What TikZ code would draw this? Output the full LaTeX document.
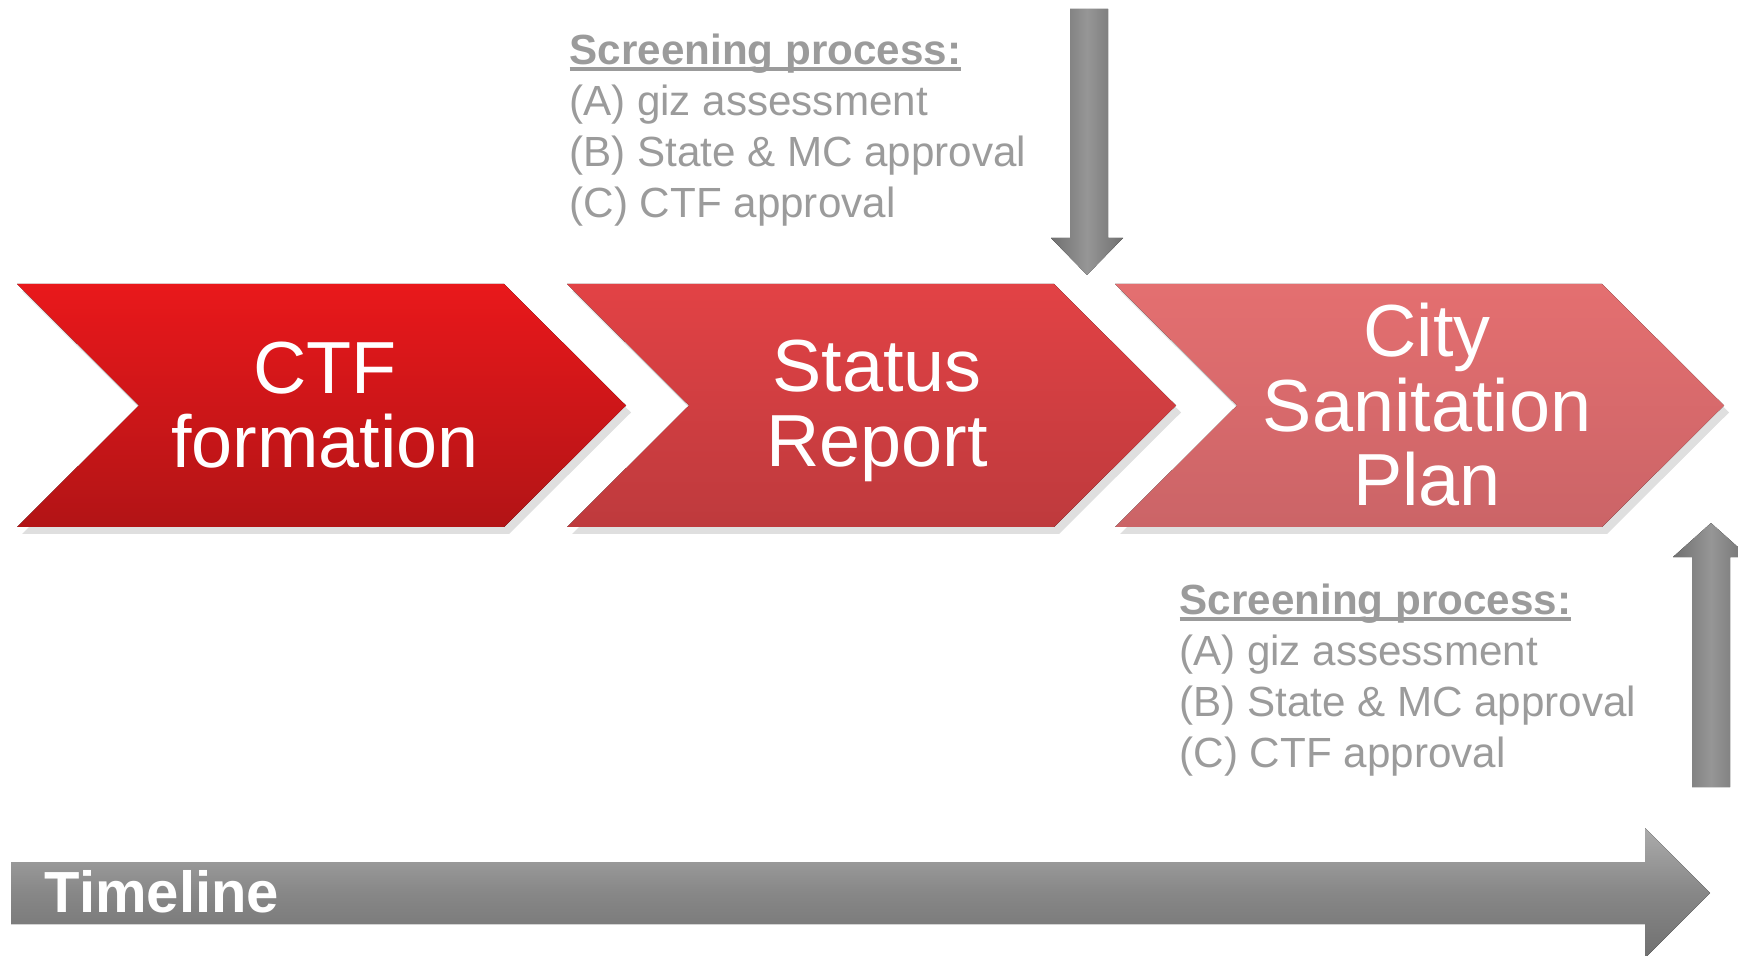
\documentclass[tikz,border=0pt]{standalone}
\usepackage{fontspec}
\setmainfont{Liberation Sans}
\usepackage{xcolor}
\definecolor{ra}{RGB}{233,24,27}
\definecolor{rb}{RGB}{178,20,22}
\definecolor{sa}{RGB}{226,66,69}
\definecolor{sb}{RGB}{190,58,61}
\definecolor{ca}{RGB}{228,111,112}
\definecolor{cb}{RGB}{203,100,103}
\definecolor{txtgray}{RGB}{155,155,155}
\definecolor{adark}{RGB}{112,112,112}
\definecolor{alight}{RGB}{150,150,150}
\usepackage{tikz}
\usetikzlibrary{calc, shadows}
\tikzstyle{chevron} = [drop shadow={shadow xshift=0.5mm, shadow yshift=-0.7mm, opacity=0.25}]
\tikzstyle{steptext} = [text=white, align=center, inner sep=0pt, font=\fontsize{21}{21.2}\selectfont]
\tikzstyle{screen} = [text=txtgray, align=left, inner sep=0pt, anchor=north west, font=\fontsize{12}{14.5}\selectfont]
\tikzstyle{grayarrow} = [left color=adark, right color=adark, middle color=alight]
\newsavebox{\scrbox}
\newcommand{\scrhead}{\sbox{\scrbox}{\textbf{Screening process:}}%
  \rlap{\rule[-1.8pt]{\wd\scrbox}{0.9pt}}\usebox{\scrbox}}

\begin{document}
\begin{tikzpicture}
    \useasboundingbox (0,0) rectangle (17.38,9.55);

    % steps
    \fill[chevron, top color=ra, bottom color=rb]
    (0.17,6.71) -- ++(4.87,0) -- ++(1.22,-1.215) -- ++(-1.22,-1.215)
    -- ++(-4.87,0) -- ++(1.22,1.215) -- cycle;
    \fill[chevron, top color=sa, bottom color=sb]
    (5.67,6.71) -- ++(4.87,0) -- ++(1.22,-1.215) -- ++(-1.22,-1.215)
    -- ++(-4.87,0) -- ++(1.22,1.215) -- cycle;
    \fill[chevron, top color=ca, bottom color=cb]
    (11.15,6.71) -- ++(4.87,0) -- ++(1.22,-1.215) -- ++(-1.22,-1.215)
    -- ++(-4.87,0) -- ++(1.22,1.215) -- cycle;

    \node[steptext] (ctf) at (3.25,5.50) {CTF\\formation};
    \node[steptext] (status) at (8.77,5.44) {Status\\Report};
    \node[steptext] (csp) at (14.27,5.50) {City\\Sanitation\\Plan};

    % screening before the plan
    \fill[grayarrow]
    (10.70,9.46) -- (11.08,9.46) -- (11.08,7.17) -- (11.23,7.17)
    -- (10.87,6.80) -- (10.51,7.17) -- (10.70,7.17) -- cycle;
    \node[screen] (scrtop) at (5.69,9.22)
    {\scrhead\\
     \makebox[1.6em][l]{(A)}giz assessment\\
     \makebox[1.6em][l]{(B)}State \& MC approval\\
     (C) CTF approval};

    % screening after the plan
    \fill[grayarrow]
    (16.92,1.68) -- (17.30,1.68) -- (17.30,3.98) -- (17.49,3.98)
    -- (17.11,4.32) -- (16.73,3.98) -- (16.92,3.98) -- cycle;
    \node[screen] (scrbot) at (11.79,3.72)
    {\scrhead\\
     \makebox[1.6em][l]{(A)}giz assessment\\
     \makebox[1.6em][l]{(B)}State \& MC approval\\
     (C) CTF approval};

    % timeline
    \fill[top color=alight!80!white, bottom color=adark, middle color=alight!90!black]
    (0.11,0.93) -- (16.45,0.93) -- (16.45,1.27) -- (17.10,0.62)
    -- (16.45,-0.03) -- (16.45,0.31) -- (0.11,0.31) -- cycle;
    \node[anchor=base west, inner sep=0pt, text=white,
      font=\fontsize{16.5}{18}\selectfont\bfseries] (tl) at (0.44,0.43) {Timeline};
\end{tikzpicture}
\end{document}
